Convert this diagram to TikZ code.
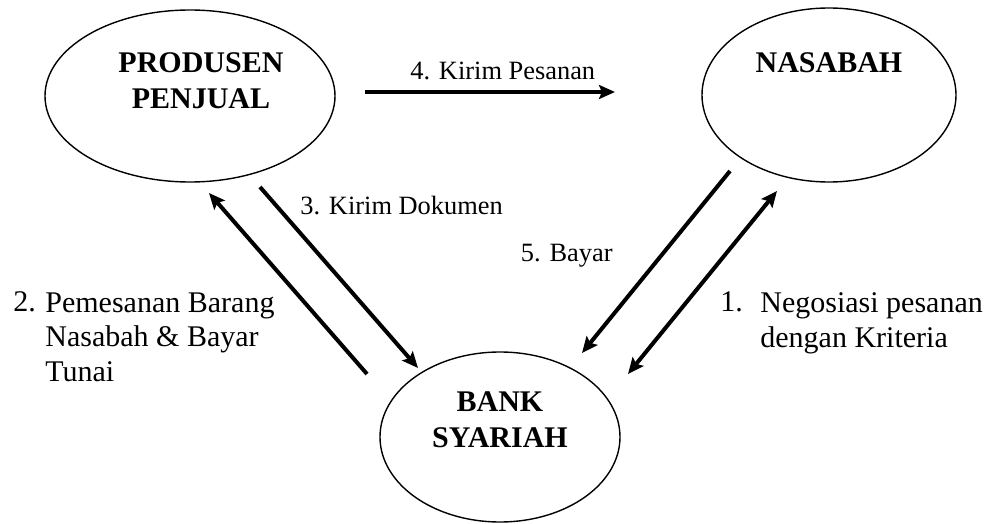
\documentclass[tikz,border=0pt]{standalone}
\usepackage{fontspec}
\setmainfont{Liberation Serif}
\usetikzlibrary{positioning, arrows.meta, shapes.geometric}

\begin{document}
\begin{tikzpicture}[
        x=0.5pt, y=-0.5pt,
        party/.style = {draw, ellipse, line width=0.7pt, inner sep=0pt},
        partyname/.style = {align=center, inner sep=0pt, font=\fontsize{15}{18}\selectfont\bfseries},
        note/.style = {align=left, inner sep=0pt, anchor=base west, font=\fontsize{15}{17.25}\selectfont},
        flowlabel/.style = {inner sep=0pt, anchor=base west, font=\fontsize{13.2}{15}\selectfont},
        arrow/.style = {-{Stealth[length=8pt, width=7pt, inset=1.5pt]}, line width=2pt},
        twoway/.style = {{Stealth[length=8pt, width=7pt, inset=1.5pt]}-{Stealth[length=8pt, width=7pt, inset=1.5pt]}, line width=2pt},
    ]
        \useasboundingbox[fill=white] (0,0) rectangle (992,524);

        % the three parties
        \node[party, minimum width=145pt, minimum height=86pt] (prod) at (190,96) {};
        \node[party, minimum width=127pt, minimum height=87pt] (nas) at (829,95) {};
        \node[party, minimum width=120pt, minimum height=85pt] (bank) at (500,437) {};
        \node[partyname] (prodname) at (201,81) {PRODUSEN\\PENJUAL};
        \node[partyname] (nasname) at (829,63) {NASABAH};
        \node[partyname] (bankname) at (500,420) {BANK\\SYARIAH};

        % arrow ends
        \coordinate (pesan-s) at (365,92);
        \coordinate (pesan-e) at (615,92);
        \coordinate (dok-s) at (260,187);
        \coordinate (dok-e) at (418,368);
        \coordinate (beli-s) at (367,374);
        \coordinate (beli-e) at (209,193);
        \coordinate (bayar-s) at (730,171);
        \coordinate (bayar-e) at (582,353);
        \coordinate (nego-s) at (628,374);
        \coordinate (nego-e) at (777,191);

        \draw[arrow] (pesan-s) -- (pesan-e);
        \draw[arrow] (dok-s) -- (dok-e);
        \draw[arrow] (beli-s) -- (beli-e);
        \draw[arrow] (bayar-s) -- (bayar-e);
        \draw[twoway] (nego-s) -- (nego-e);

        % labels (multi-line ones sit on their last baseline)
        \node[flowlabel] (pesanlbl) at (410,80) {4. Kirim Pesanan};
        \node[flowlabel] (doklbl) at (300,214) {3. Kirim Dokumen};
        \node[flowlabel, anchor=base east] (bayarlbl) at (613,262) {5. Bayar};
        \node[note] (belinum) at (13,312) {2.};
        \node[note] (belibody) at (45,381) {Pemesanan Barang\\Nasabah \& Bayar\\Tunai};
        \node[note] (negonum) at (720,312) {1.};
        \node[note] (negobody) at (760,347) {Negosiasi pesanan\\dengan Kriteria};
    \end{tikzpicture}
\end{document}
